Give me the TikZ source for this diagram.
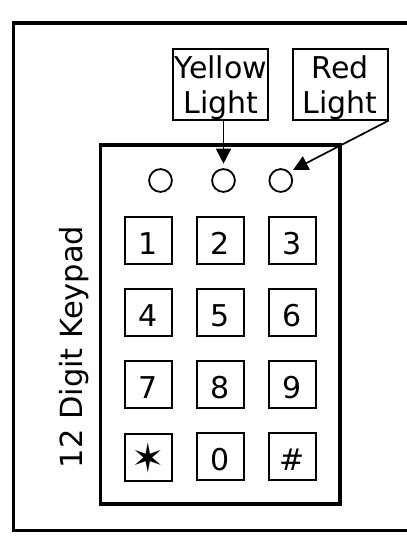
\documentclass[tikz,border=0pt]{standalone}
\usepackage{fontspec}
\setmainfont{DejaVu Sans}
\usetikzlibrary{arrows.meta,calc}
\begin{document}
\begin{tikzpicture}[x=1pt,y=-1pt,
  frame/.style={line width=3.5pt},
  padbox/.style={draw, line width=3.5pt, inner sep=0pt},
  lbox/.style={draw, line width=1.6pt, minimum width=95pt, minimum height=70.5pt, inner sep=0pt},
  lbl/.style={font=\fontsize{30}{34}\selectfont, anchor=base, inner sep=0pt},
  key/.style={draw, line width=1.8pt, minimum size=47.3pt, inner sep=0pt,
              font=\fontsize{30}{34}\selectfont, text height=27pt, text depth=0pt},
  lamp/.style={draw, circle, line width=1.8pt, minimum size=22.8pt, inner sep=0pt},
  arr/.style={line width=1.7pt, -{Triangle[length=15pt,width=15pt]}}]
\useasboundingbox (0,0) rectangle (407,557);
% outer frame (open on the right)
\coordinate (ftr) at (407,23);
\coordinate (ftl) at (13.5,23);
\coordinate (fbl) at (13.5,530.5);
\coordinate (fbr) at (407,530.5);
\draw[frame] (ftr) -- (ftl) -- (fbl) -- (fbr);
% keypad body
\node[padbox, minimum width=239.5pt, minimum height=359pt] (pad) at (220.25,324.5) {};
% label boxes
\node[lbox] (yl) at (220.2,84.5) {};
\node[lbox] (rl) at (340.3,84.5) {};
\node[lbl] (yl1) at (221,78.5) {Yellow};
\node[lbl] (yl2) at (221,113.5) {Light};
\node[lbl] (rl1) at (340,78.5) {Red};
\node[lbl] (rl2) at (340,113.5) {Light};
% lamps
\node[lamp] (c1) at (160.5,180.5) {};
\node[lamp] (c2) at (223.5,180.5) {};
\node[lamp] (c3) at (280.8,180.5) {};
% arrows
\draw[arr, shorten >=4.5pt] (yl.south -| c2) -- (c2.north);
\draw[arr, shorten >=4pt] (rl.south east) -- (c3.north east);
% keys
\node[key] (k1) at (148.5,240.5) {1};
\node[key] (k2) at (220.5,240.5) {2};
\node[key] (k3) at (292.5,240.5) {3};
\node[key] (k4) at (148.5,312.5) {4};
\node[key] (k5) at (220.5,312.5) {5};
\node[key] (k6) at (292.5,312.5) {6};
\node[key] (k7) at (148.5,384.5) {7};
\node[key] (k8) at (220.5,384.5) {8};
\node[key] (k9) at (292.5,384.5) {9};
\node[key, text height=0pt, text depth=0pt] (ks) at (148.5,457.5) {\raisebox{-0.5\height}{\fontsize{40}{40}\selectfont ✶}};
\node[key] (k0) at (220.5,456.5) {0};
\node[key] (kh) at (292.5,456.5) {\#};
% side label
\node[rotate=90, anchor=base, inner sep=0pt, font=\fontsize{30.5}{34}\selectfont] (side) at (82,347) {12 Digit Keypad};
\end{tikzpicture}
\end{document}
